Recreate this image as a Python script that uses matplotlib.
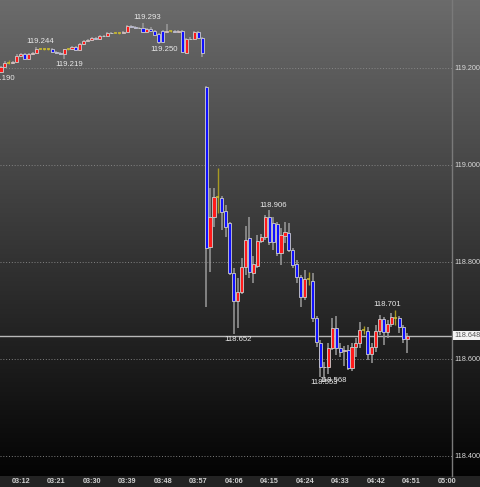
import matplotlib
matplotlib.use("Agg")
import matplotlib.pyplot as plt
from matplotlib.patches import Rectangle
import matplotlib.transforms as mtransforms
import numpy as np

# ---------------- data (1-minute candles starting 03:07) ----------------
start_minute = 3 * 60 + 7

opens = [
    119.192, 119.202, 119.211, 119.211, 119.213, 119.225, 119.229, 119.219, 119.228, 119.230,
    119.240, 119.240, 119.240, 119.240, 119.232, 119.231, 119.228, 119.238, 119.238, 119.243,
    119.236, 119.250, 119.256, 119.258, 119.261, 119.260, 119.266, 119.265, 119.271, 119.272,
    119.272, 119.272, 119.275, 119.286, 119.284, 119.283, 119.282, 119.273, 119.281, 119.276,
    119.270, 119.276, 119.274, 119.276, 119.276, 119.275, 119.276, 119.231, 119.260, 119.259,
    119.274, 119.262,
    119.161, 118.831, 118.893, 118.933, 118.931, 118.905, 118.880, 118.777, 118.719, 118.738,
    118.789, 118.849, 118.777, 118.792, 118.843, 118.851, 118.893, 118.880, 118.878, 118.818,
    118.853, 118.860, 118.825, 118.796, 118.769, 118.728, 118.765, 118.761, 118.684, 118.633,
    118.583, 118.584, 118.622, 118.664, 118.622, 118.617, 118.618, 118.581, 118.625, 118.633,
    118.660, 118.658, 118.610, 118.625, 118.658, 118.682, 118.655, 118.672, 118.685, 118.685,
    118.666, 118.641,
]
highs = [
    119.204, 119.214, 119.216, 119.215, 119.228, 119.231, 119.231, 119.230, 119.232, 119.244,
    119.242, 119.241, 119.241, 119.241, 119.234, 119.233, 119.240, 119.242, 119.245, 119.246,
    119.252, 119.258, 119.260, 119.263, 119.263, 119.268, 119.268, 119.273, 119.274, 119.275,
    119.275, 119.277, 119.288, 119.288, 119.286, 119.285, 119.293, 119.283, 119.284, 119.278,
    119.272, 119.279, 119.290, 119.279, 119.278, 119.278, 119.278, 119.262, 119.263, 119.276,
    119.276, 119.264,
    119.163, 118.952, 118.952, 118.994, 118.936, 118.917, 118.882, 118.787, 118.767, 118.808,
    118.874, 118.893, 118.812, 118.855, 118.858, 118.897, 118.906, 118.893, 118.882, 118.870,
    118.882, 118.880, 118.829, 118.804, 118.773, 118.783, 118.779, 118.777, 118.688, 118.639,
    118.594, 118.633, 118.684, 118.688, 118.633, 118.627, 118.629, 118.633, 118.643, 118.676,
    118.668, 118.666, 118.633, 118.670, 118.690, 118.686, 118.680, 118.695, 118.701, 118.688,
    118.670, 118.653,
]
lows = [
    119.190, 119.200, 119.209, 119.208, 119.210, 119.223, 119.216, 119.217, 119.226, 119.228,
    119.238, 119.237, 119.237, 119.230, 119.228, 119.226, 119.219, 119.237, 119.237, 119.234,
    119.234, 119.248, 119.254, 119.256, 119.258, 119.258, 119.263, 119.263, 119.269, 119.271,
    119.270, 119.271, 119.273, 119.282, 119.281, 119.280, 119.271, 119.271, 119.274, 119.266,
    119.250, 119.252, 119.272, 119.274, 119.273, 119.273, 119.230, 119.229, 119.257, 119.257,
    119.261, 119.223,
    118.707, 118.779, 118.872, 118.901, 118.866, 118.851, 118.773, 118.652, 118.664, 118.734,
    118.773, 118.767, 118.757, 118.787, 118.839, 118.845, 118.835, 118.825, 118.812, 118.794,
    118.839, 118.820, 118.787, 118.757, 118.707, 118.721, 118.752, 118.676, 118.625, 118.562,
    118.553, 118.568, 118.618, 118.608, 118.604, 118.585, 118.578, 118.575, 118.604, 118.622,
    118.652, 118.598, 118.592, 118.614, 118.649, 118.629, 118.643, 118.666, 118.670, 118.653,
    118.633, 118.612,
]
closes = [
    119.202, 119.211, 119.211, 119.213, 119.225, 119.229, 119.219, 119.228, 119.230, 119.240,
    119.240, 119.240, 119.240, 119.232, 119.231, 119.229, 119.238, 119.238, 119.243, 119.236,
    119.250, 119.256, 119.258, 119.261, 119.260, 119.266, 119.265, 119.271, 119.272, 119.272,
    119.272, 119.275, 119.286, 119.284, 119.283, 119.282, 119.273, 119.281, 119.276, 119.268,
    119.254, 119.253, 119.276, 119.276, 119.275, 119.276, 119.232, 119.260, 119.259, 119.274,
    119.262, 119.230,
    118.829, 118.893, 118.934, 118.933, 118.903, 118.872, 118.777, 118.719, 118.738, 118.789,
    118.845, 118.779, 118.796, 118.843, 118.851, 118.893, 118.841, 118.841, 118.818, 118.855,
    118.862, 118.825, 118.794, 118.769, 118.728, 118.765, 118.765, 118.684, 118.635, 118.583,
    118.584, 118.622, 118.664, 118.622, 118.614, 118.618, 118.581, 118.625, 118.633, 118.660,
    118.660, 118.610, 118.625, 118.658, 118.682, 118.655, 118.672, 118.686, 118.685, 118.666,
    118.641, 118.648,
]

last_price = 118.648
price_ticks = [118.4, 118.6, 118.8, 119.0, 119.2]
time_labels = ["03:12", "03:21", "03:30", "03:39", "03:48", "03:57", "04:06",
               "04:15", "04:24", "04:33", "04:42", "04:51", "05:00"]
# annotated extremes: (candle index, value)
high_marks = [(9, 119.244), (36, 119.293), (68, 118.906), (98, 118.701)]
low_marks = [(0, 119.190), (16, 119.219), (40, 119.250), (59, 118.652),
             (82, 118.553), (83, 118.568)]

# ---------------- figure ----------------
W, H = 480, 487
fig = plt.figure(figsize=(W / 100, H / 100), dpi=100)
fig.patch.set_facecolor("#232323")

strip = 11
plot_w = 452
ax_rect = [0, strip / H, plot_w / W, (H - strip) / H]

# background gradient (chart + price scale)
bg = fig.add_axes([0, strip / H, 1, (H - strip) / H], zorder=0)
grad = np.linspace(0.42, 0.015, 256).reshape(-1, 1)
bg.imshow(np.dstack([grad, grad, grad]), aspect="auto", extent=[0, 1, 0, 1],
          interpolation="bilinear")
bg.set_axis_off()

ax = fig.add_axes(ax_rect, zorder=1)
ax.patch.set_alpha(0)

n = len(opens)
px_per_min = 3.944
x0 = -1 / px_per_min
x1 = x0 + plot_w / px_per_min
y_top = 119.340
y_bot = y_top - (H - strip) / 485.0
ax.set_xlim(x0, x1)
ax.set_ylim(y_bot, y_top)

# grid
for p in price_ticks:
    ax.axhline(p, color="#8c8c8c", lw=0.6, ls=(0, (1.2, 2.2)), zorder=1)

# current price line
ax.axhline(last_price, color="#b8b8b8", lw=1.0, zorder=1.5)

# candles
body_w = 0.78
for i in range(n):
    o, h, l, c = opens[i], highs[i], lows[i], closes[i]
    if abs(c - o) < 0.0005:
        ax.vlines(i, l, h, color="#a89a22", lw=1.0, zorder=2)
        ax.hlines(c, i - body_w / 2, i + body_w / 2, color="#d0c030", lw=1.1, zorder=3)
        continue
    ax.vlines(i, l, h, color="#9a9a9a", lw=1.1, zorder=2)
    col = "#ff1a1a" if c > o else "#1010ff"
    ax.add_patch(Rectangle((i - body_w / 2, min(o, c)), body_w, abs(c - o),
                           facecolor=col, edgecolor="#cfcfcf", lw=0.6, zorder=3))

# annotations
lab_font = dict(family="Liberation Sans", fontsize=5.6, color="#e8e8e8")
for idx, v in high_marks:
    off = 0.0 if idx == 98 else 1.0
    ax.annotate(f"{v:.3f}", (idx + off, v), xytext=(0, 1.2), textcoords="offset points",
                ha="center", va="bottom", zorder=5, annotation_clip=False, **lab_font)
low_dx = {0: 0.0, 16: 1.2, 40: 1.3, 59: 1.0, 82: 0.0, 83: 1.3}
low_dy = {82: 3.2}
for idx, v in low_marks:
    ax.annotate(f"{v:.3f}", (idx + low_dx[idx], v), xytext=(0, -1.5 + low_dy.get(idx, 0)),
                textcoords="offset points", ha="center", va="top", zorder=5,
                clip_on=True, **lab_font)

# axes styling
for s in ["top", "left", "bottom"]:
    ax.spines[s].set_visible(False)
ax.spines["right"].set_color("#7a7a7a")
ax.spines["right"].set_linewidth(1.0)
ax.yaxis.tick_right()
ax.set_yticks(price_ticks)
ax.set_yticklabels([f"{p:.3f}" for p in price_ticks])
ax.tick_params(axis="y", length=0, pad=1.5, labelsize=5.2, labelcolor="#dadada")
for t in ax.get_yticklabels():
    t.set_fontfamily("Liberation Sans")

tick_pos = [int(t[:2]) * 60 + int(t[3:]) - start_minute for t in time_labels]
ax.set_xticks(tick_pos)
ax.set_xticklabels(time_labels)
ax.tick_params(axis="x", length=0, pad=1.5, labelsize=5.2, labelcolor="#cfcfcf")
for t in ax.get_xticklabels():
    t.set_fontfamily("Liberation Sans")
    t.set_fontweight("bold")

# current price tag
ax.text(1.0 + 2 / plot_w, last_price, f"{last_price:.3f}",
        transform=mtransforms.blended_transform_factory(ax.transAxes, ax.transData),
        ha="left", va="center", fontsize=5.2, family="Liberation Sans", color="#555555",
        bbox=dict(boxstyle="square,pad=0.15", fc="#f4f4f4", ec="none"), zorder=6, clip_on=False)

fig.savefig("out.png", dpi=100, facecolor=fig.get_facecolor())
